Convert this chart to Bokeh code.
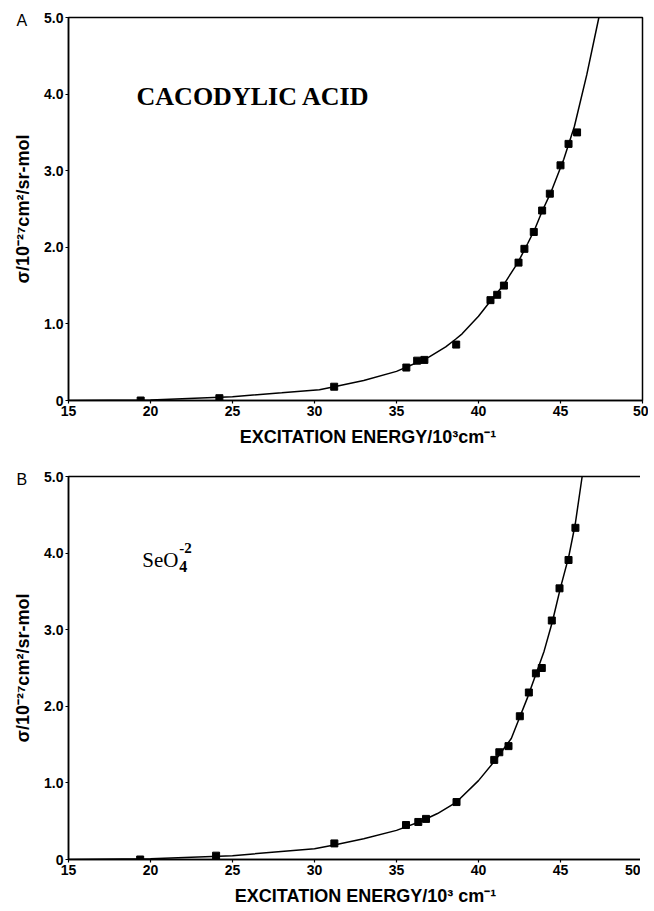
from bokeh.plotting import figure
from bokeh.layouts import column
from bokeh.models import Range1d, FixedTicker, Label, Title
from bokeh.embed import file_html
from bokeh.resources import INLINE

# ---- Panel A: cacodylic acid ----
a_x = [19.4, 24.2, 31.2, 35.6, 36.26, 36.7, 38.64, 40.73, 41.14, 41.55, 42.44,
       42.8, 43.37, 43.88, 44.35, 45.0, 45.49, 46.01]
a_y = [0.0, 0.03, 0.18, 0.43, 0.52, 0.53, 0.73, 1.31, 1.38, 1.50, 1.80,
       1.98, 2.20, 2.48, 2.70, 3.07, 3.35, 3.50]
a_cx = [15, 20, 25, 28, 30.3, 31.2, 33, 35, 36.3, 37, 38, 38.6, 39, 40, 40.73,
        41.5, 42.4, 43, 43.4, 43.9, 44.4, 45.2, 45.85, 46.6, 47.34]
a_cy = [0.0, 0.005, 0.05, 0.10, 0.14, 0.18, 0.26, 0.38, 0.50, 0.57, 0.70, 0.80,
        0.87, 1.10, 1.30, 1.50, 1.80, 2.05, 2.22, 2.48, 2.71, 3.15, 3.58, 4.25, 5.0]

# ---- Panel B: selenate ----
b_x = [19.37, 24.0, 31.21, 35.58, 36.33, 36.8, 38.66, 40.96, 41.27, 41.83,
       42.52, 43.07, 43.5, 43.86, 44.47, 44.94, 45.49, 45.91]
b_y = [0.0, 0.05, 0.21, 0.45, 0.49, 0.53, 0.75, 1.30, 1.40, 1.48,
       1.87, 2.18, 2.43, 2.50, 3.12, 3.54, 3.91, 4.33]
b_cx = [15, 20, 25, 30, 31.2, 33, 35, 36.5, 37.5, 38.66, 40, 41, 42, 42.5, 43,
        43.5, 44, 44.5, 45, 45.5, 45.9, 46.32]
b_cy = [0.0, 0.01, 0.05, 0.14, 0.19, 0.27, 0.38, 0.50, 0.60, 0.75, 1.03, 1.29,
        1.58, 1.85, 2.12, 2.42, 2.72, 3.10, 3.55, 3.95, 4.38, 5.0]

x_ticks = [15, 20, 25, 30, 35, 40, 45, 50]
y_ticks = [0, 1, 2, 3, 4, 5]
y_tick_labels = ["0", "1.0", "2.0", "3.0", "4.0", "5.0"]

SANS = "Liberation Sans"
SERIF = "Liberation Serif"
PAD = "\u00a0" * 5


def make_panel(xs, ys, cx, cy, xlabel, panel_letter, letter_offset,
               top_border, bottom_border, left_border):
    p = figure(frame_width=574, frame_height=383,
               x_range=Range1d(15, 50), y_range=Range1d(0, 5),
               output_backend="svg", toolbar_location=None,
               min_border_top=top_border, min_border_bottom=bottom_border,
               min_border_left=left_border, min_border_right=6)
    p.title = Title(text=panel_letter, align="left", offset=letter_offset,
                    standoff=-22, text_font=SANS, text_font_size="16px",
                    text_font_style="normal", text_color="black")
    p.background_fill_color = "white"
    p.border_fill_color = "white"
    p.grid.visible = False
    p.outline_line_color = "black"
    p.outline_line_width = 1.5
    p.xaxis.ticker = FixedTicker(ticks=x_ticks)
    p.yaxis.ticker = FixedTicker(ticks=y_ticks)
    p.yaxis.major_label_overrides = {t: l for t, l in zip(y_ticks, y_tick_labels)}
    for ax in (p.xaxis[0], p.yaxis[0]):
        ax.axis_line_color = "black"
        ax.axis_line_width = 1.5
        ax.major_tick_line_color = "black"
        ax.major_tick_line_width = 1.2
        ax.major_tick_in = 0
        ax.major_tick_out = 3
        ax.minor_tick_line_color = None
        ax.major_label_text_font = SANS
        ax.major_label_text_font_style = "bold"
        ax.major_label_text_font_size = "14px"
        ax.major_label_text_color = "black"
        ax.major_label_standoff = 2
        ax.axis_label_text_font = SANS
        ax.axis_label_text_font_style = "bold"
        ax.axis_label_text_font_size = "18px"
        ax.axis_label_text_color = "black"
    p.xaxis.axis_label = PAD + xlabel
    p.xaxis.axis_label_standoff = 8
    p.yaxis.axis_label = "σ/10⁻²⁷cm²/sr-mol"
    p.yaxis.axis_label_standoff = 8
    p.line(cx, cy, line_color="black", line_width=1.5)
    p.scatter(xs, ys, marker="square", size=7, fill_color="black", line_color="black")
    return p


p1 = make_panel(a_x, a_y, a_cx, a_cy, "EXCITATION ENERGY/10³cm⁻¹", "A", -52, 17, 45, 68)
p1.add_layout(Label(x=19.15, y=3.97, text="CACODYLIC ACID", text_font=SERIF,
                    text_font_style="bold", text_font_size="26px",
                    text_baseline="middle", text_color="black"))

p2 = make_panel(b_x, b_y, b_cx, b_cy, "EXCITATION  ENERGY/10³ cm⁻¹", "B", -52, 27, 40, 60)
p2.add_layout(Label(x=19.5, y=3.915, text="SeO", text_font=SERIF,
                    text_font_size="21px", text_baseline="alphabetic", text_color="black"))
p2.add_layout(Label(x=19.5, y=3.915, x_offset=37, y_offset=-7, text="4", text_font=SERIF,
                    text_font_size="16px", text_font_style="bold",
                    text_baseline="alphabetic", text_color="black"))
p2.add_layout(Label(x=19.5, y=3.915, x_offset=37, y_offset=12, text="-2", text_font=SERIF,
                    text_font_size="15px", text_font_style="bold",
                    text_baseline="alphabetic", text_color="black"))

layout = column(p1, p2, spacing=0)
open("out.html", "w").write(file_html(layout, INLINE))
